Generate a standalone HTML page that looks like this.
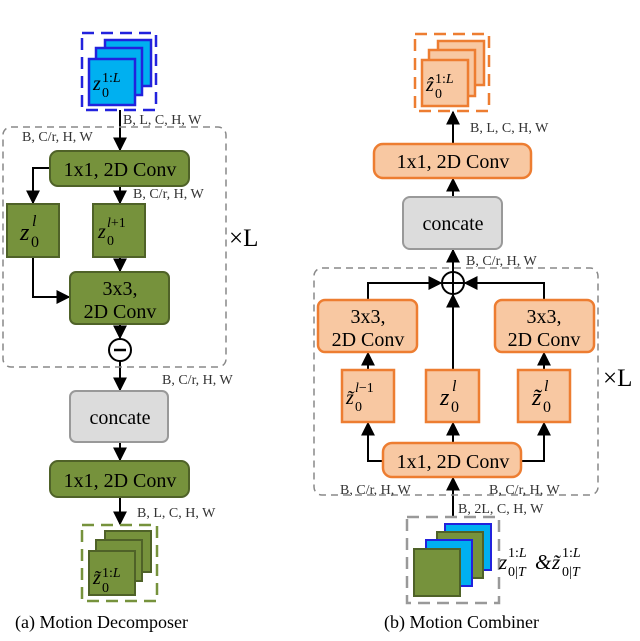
<!DOCTYPE html>
<html><head><meta charset="utf-8"><style>
body{margin:0;background:#fff}
svg,svg text{font-family:"Liberation Serif","DejaVu Serif",serif}
.i{font-style:italic}
</style></head><body>
<svg width="640" height="636" viewBox="0 0 640 636" xmlns="http://www.w3.org/2000/svg">
<defs>
<marker id="a" viewBox="0 0 10 10" refX="9" refY="5" markerWidth="7" markerHeight="7" orient="auto-start-reverse"><path d="M0,0 L10,5 L0,10 z" fill="#000"/></marker>
</defs>
<g stroke="#000" stroke-width="2" fill="none">
<line x1="120" y1="110" x2="120" y2="150" marker-end="url(#a)"/>
<polyline points="50,168 33,168 33,203" marker-end="url(#a)"/>
<line x1="120" y1="186" x2="120" y2="203" marker-end="url(#a)"/>
<polyline points="33,257 33,297 69,297" marker-end="url(#a)"/>
<line x1="120" y1="257" x2="120" y2="271" marker-end="url(#a)"/>
<line x1="120" y1="324" x2="120" y2="338" marker-end="url(#a)"/>
<line x1="120" y1="361" x2="120" y2="390" marker-end="url(#a)"/>
<line x1="120" y1="442" x2="120" y2="460" marker-end="url(#a)"/>
<line x1="120" y1="497" x2="120" y2="524" marker-end="url(#a)"/>
<line x1="453" y1="144" x2="453" y2="112" marker-end="url(#a)"/>
<line x1="453" y1="197" x2="453" y2="179" marker-end="url(#a)"/>
<line x1="453" y1="272" x2="453" y2="250" marker-end="url(#a)"/>
<polyline points="368,300 368,283 441,283" marker-end="url(#a)"/>
<polyline points="544,300 544,283 465,283" marker-end="url(#a)"/>
<line x1="453" y1="370" x2="453" y2="295" marker-end="url(#a)"/>
<line x1="368" y1="370" x2="368" y2="353" marker-end="url(#a)"/>
<line x1="544" y1="370" x2="544" y2="353" marker-end="url(#a)"/>
<polyline points="383,461 368,461 368,423" marker-end="url(#a)"/>
<polyline points="521,461 544,461 544,423" marker-end="url(#a)"/>
<line x1="453" y1="443" x2="453" y2="423" marker-end="url(#a)"/>
<line x1="453" y1="518" x2="453" y2="478" marker-end="url(#a)"/>
</g>
<rect x="3" y="127" width="223" height="240" rx="8" fill="none" stroke="#888" stroke-width="1.5" stroke-dasharray="7,5"/>
<rect x="314" y="268" width="284" height="227" rx="8" fill="none" stroke="#888" stroke-width="1.5" stroke-dasharray="7,5"/>
<rect x="82" y="33" width="74" height="77" fill="none" stroke="#2222dd" stroke-width="2.5" stroke-dasharray="12,7"/>
<g fill="#00b0f0" stroke="#2222dd" stroke-width="2.5">
<rect x="105" y="40" width="46" height="46"/><rect x="96" y="48" width="46" height="47"/><rect x="89" y="59" width="46" height="46"/></g>
<text x="93" y="90" font-size="20" class="i">z</text><text x="102" y="97" font-size="14">0</text><text x="102" y="82" font-size="14">1:<tspan class="i">L</tspan></text>
<g fill="#76923c" stroke="#4f6228" stroke-width="2">
<rect x="50" y="151" width="139" height="35" rx="8"/>
<rect x="7" y="204" width="52" height="53"/>
<rect x="93" y="204" width="52" height="53"/>
<rect x="70" y="272" width="99" height="52" rx="6"/>
<rect x="50" y="461" width="139" height="36" rx="8"/>
</g>
<rect x="70" y="391" width="98" height="51" rx="6" fill="#dcdcdc" stroke="#999" stroke-width="2"/>
<circle cx="120" cy="350" r="11" fill="#fff" stroke="#000" stroke-width="2"/>
<line x1="114" y1="350" x2="126" y2="350" stroke="#000" stroke-width="2.5"/>
<g font-size="20" text-anchor="middle">
<text x="120" y="176">1x1, 2D Conv</text>
<text x="120" y="295">3x3,</text><text x="120" y="318">2D Conv</text>
<text x="120" y="424">concate</text>
<text x="120" y="487">1x1, 2D Conv</text>
</g>
<text x="20" y="240" font-size="24" class="i">z</text><text x="31" y="247" font-size="16">0</text><text x="32" y="226" font-size="16" class="i">l</text>
<text x="98" y="238" font-size="20" class="i">z</text><text x="107" y="245" font-size="14">0</text><text x="107" y="227" font-size="14"><tspan class="i">l</tspan>+1</text>
<g font-size="14" fill="#333">
<text x="123" y="124">B, L, C, H, W</text>
<text x="22" y="141">B, C/r, H, W</text>
<text x="133" y="198">B, C/r, H, W</text>
<text x="162" y="384">B, C/r, H, W</text>
<text x="137" y="517">B, L, C, H, W</text>
<text x="340" y="494">B, C/r, H, W</text>
<text x="489" y="494">B, C/r, H, W</text>
<text x="458" y="513">B, 2L, C, H, W</text>
<text x="470" y="132">B, L, C, H, W</text>
<text x="466" y="265">B, C/r, H, W</text>
</g>
<text x="229" y="246" font-size="25">×L</text>
<text x="603" y="386" font-size="25">×L</text>
<rect x="82" y="525" width="75" height="76" fill="none" stroke="#76923c" stroke-width="2.5" stroke-dasharray="12,7"/>
<g fill="#76923c" stroke="#4f6228" stroke-width="2">
<rect x="105" y="531" width="46" height="41"/><rect x="96" y="540" width="46" height="41"/><rect x="89" y="551" width="46" height="44"/></g>
<text x="93" y="584" font-size="20" class="i">z̃</text><text x="102" y="592" font-size="14">0</text><text x="102" y="577" font-size="14">1:<tspan class="i">L</tspan></text>
<text x="15" y="628" font-size="18">(a) Motion Decomposer</text>
<rect x="415" y="34" width="74" height="77" fill="none" stroke="#ed7d31" stroke-width="2.5" stroke-dasharray="12,7"/>
<g fill="#f8c8a2" stroke="#ed7d31" stroke-width="2.5">
<rect x="438" y="41" width="46" height="44"/><rect x="429" y="50" width="46" height="46"/><rect x="422" y="60" width="46" height="46"/></g>
<text x="426" y="91" font-size="20" class="i">ẑ</text><text x="435" y="98" font-size="14">0</text><text x="435" y="83" font-size="14">1:<tspan class="i">L</tspan></text>
<g fill="#f8c8a2" stroke="#ed7d31" stroke-width="2.5">
<rect x="374" y="144" width="157" height="34" rx="9"/>
<rect x="318" y="300" width="99" height="52" rx="7"/>
<rect x="495" y="300" width="99" height="52" rx="7"/>
<rect x="342" y="370" width="52" height="52"/>
<rect x="426" y="370" width="53" height="52"/>
<rect x="518" y="370" width="52" height="52"/>
<rect x="383" y="443" width="138" height="34" rx="9"/>
</g>
<rect x="403" y="197" width="99" height="52" rx="7" fill="#dcdcdc" stroke="#999" stroke-width="2"/>
<circle cx="453" cy="283" r="11" fill="#fff" stroke="#000" stroke-width="2"/>
<line x1="442" y1="283" x2="464" y2="283" stroke="#000" stroke-width="2"/>
<line x1="453" y1="272" x2="453" y2="294" stroke="#000" stroke-width="2"/>
<g font-size="20" text-anchor="middle">
<text x="453" y="168">1x1, 2D Conv</text>
<text x="453" y="230">concate</text>
<text x="368" y="323">3x3,</text><text x="368" y="346">2D Conv</text>
<text x="544" y="323">3x3,</text><text x="544" y="346">2D Conv</text>
<text x="453" y="468">1x1, 2D Conv</text>
</g>
<text x="346" y="404" font-size="20" class="i">z̃</text><text x="355" y="411" font-size="14">0</text><text x="355" y="392" font-size="14"><tspan class="i">l</tspan>−1</text>
<text x="440" y="405" font-size="24" class="i">z</text><text x="451" y="412" font-size="16">0</text><text x="452" y="391" font-size="16" class="i">l</text>
<text x="532" y="405" font-size="24" class="i">z̃</text><text x="543" y="412" font-size="16">0</text><text x="544" y="391" font-size="16" class="i">l</text>
<rect x="407" y="517" width="92" height="86" fill="none" stroke="#999" stroke-width="2.5" stroke-dasharray="12,7"/>
<rect x="445" y="524" width="46" height="46" fill="#00b0f0" stroke="#2222dd" stroke-width="2"/>
<rect x="437" y="532" width="46" height="46" fill="#76923c" stroke="#4f6228" stroke-width="2"/>
<rect x="426" y="540" width="46" height="46" fill="#00b0f0" stroke="#2222dd" stroke-width="2"/>
<rect x="414" y="549" width="46" height="47" fill="#76923c" stroke="#4f6228" stroke-width="2"/>
<text x="499" y="569" font-size="21" class="i">z</text><text x="508" y="576" font-size="14">0|<tspan class="i">T</tspan></text><text x="508" y="557" font-size="14">1:<tspan class="i">L</tspan></text>
<text x="535" y="569" font-size="21" class="i">&amp;</text>
<text x="552" y="569" font-size="21" class="i">z̃</text><text x="562" y="576" font-size="14">0|<tspan class="i">T</tspan></text><text x="562" y="557" font-size="14">1:<tspan class="i">L</tspan></text>
<text x="384" y="628" font-size="18">(b) Motion Combiner</text>
</svg>
</body></html>
